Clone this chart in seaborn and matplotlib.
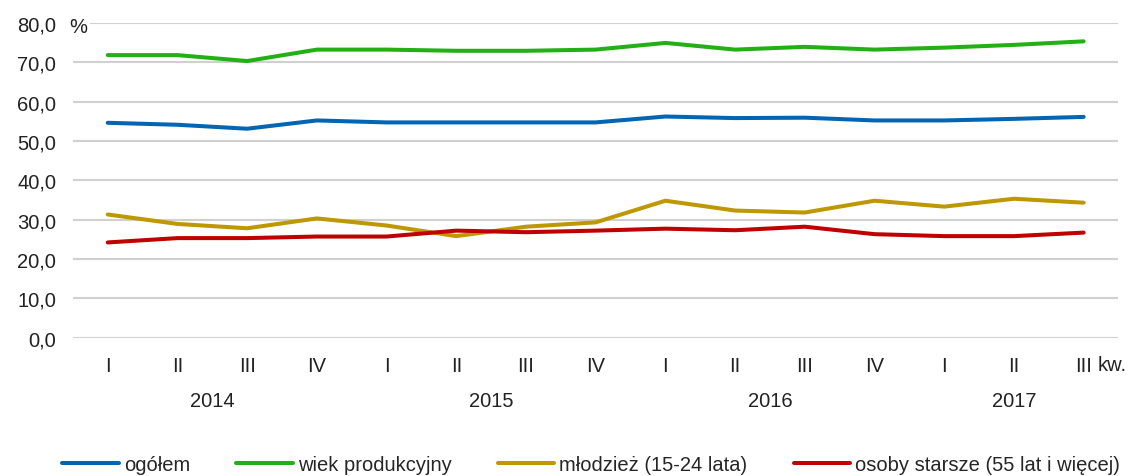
import pandas as pd
import seaborn as sns
import matplotlib.pyplot as plt

# Dane
kwartaly = ['I', 'II', 'III', 'IV', 'I', 'II', 'III', 'IV', 'I', 'II', 'III', 'IV', 'I', 'II', 'III']
lata = ['2014', '2015', '2016', '2017']
lata_srodek = [1.5, 5.5, 9.5, 13]

ogolem = [54.6, 54.1, 53.1, 55.2, 54.7, 54.7, 54.7, 54.7, 56.2, 55.8, 55.9, 55.2, 55.2, 55.6, 56.1]
wiek_prod = [71.8, 71.8, 70.3, 73.2, 73.2, 72.9, 72.9, 73.2, 74.9, 73.2, 73.9, 73.2, 73.7, 74.4, 75.3]
mlodziez = [31.3, 28.9, 27.8, 30.3, 28.5, 25.8, 28.2, 29.3, 34.8, 32.3, 31.8, 34.8, 33.3, 35.3, 34.3]
starsze = [24.2, 25.3, 25.3, 25.7, 25.7, 27.2, 26.8, 27.2, 27.7, 27.3, 28.2, 26.3, 25.8, 25.8, 26.7]

serie = ['ogółem', 'wiek produkcyjny', 'młodzież (15-24 lata)', 'osoby starsze (55 lat i więcej)']
kolory = ['#0066B3', '#22B014', '#BE9800', '#C00000']

# Tabela w formacie długim dla seaborn
datos = pd.concat([
    pd.DataFrame({'x': range(len(kwartaly)), 'wartosc': vals, 'seria': nazwa})
    for nazwa, vals in zip(serie, [ogolem, wiek_prod, mlodziez, starsze])
])

sns.set_theme(style="white")
plt.rcParams['font.family'] = ['Liberation Sans', 'DejaVu Sans']
fs = 14.5

fig = plt.figure(figsize=(11.39, 4.77), dpi=100)
ax = fig.add_axes([0.064, 0.29, 0.918, 0.66])

sns.lineplot(data=datos, x='x', y='wartosc', hue='seria', hue_order=serie,
             palette=kolory, linewidth=2.9, ax=ax, legend=False)

ax.set_xlim(-0.5, len(kwartaly) - 0.5)
ax.set_ylim(0, 80)
ax.set_yticks(range(0, 81, 10))
ax.set_yticklabels([f'{v},0' for v in range(0, 81, 10)], fontsize=fs, color='#222222')
ax.yaxis.grid(True, color='#D0D0D0', linewidth=1.5)
ax.set_axisbelow(True)
for s in ax.spines.values():
    s.set_visible(False)
ax.tick_params(axis='y', length=0, pad=12)

ax.set_xticks(range(len(kwartaly)))
ax.set_xticklabels(kwartaly, fontsize=fs, color='#222222')
ax.tick_params(axis='x', length=0, pad=13)
ax.set_xlabel('')
ax.set_ylabel('')

for rok, pos in zip(lata, lata_srodek):
    ax.text(pos, -0.2, rok, transform=ax.get_xaxis_transform(),
            ha='center', va='center', fontsize=fs, color='#222222')

ax.annotate('kw.', xy=(len(kwartaly) - 1, 0), xycoords=('data', 'axes fraction'),
            xytext=(10, -19.5), textcoords='offset points', ha='left', va='center',
            fontsize=fs, color='#222222')

fig.text(0.061, 0.942, '%', fontsize=fs, color='#222222', ha='left', va='center',
         bbox=dict(facecolor='white', edgecolor='none', pad=2))

# Legenda
uchwyty = [plt.Line2D([], [], color=c, linewidth=2.9) for c in kolory]
fig.legend(uchwyty, serie, loc='center', bbox_to_anchor=(0.519, 0.025), ncol=4,
           frameon=False, fontsize=fs, handlelength=2.8, handletextpad=0.25,
           columnspacing=2.3)

plt.savefig('out.png', dpi=100)
